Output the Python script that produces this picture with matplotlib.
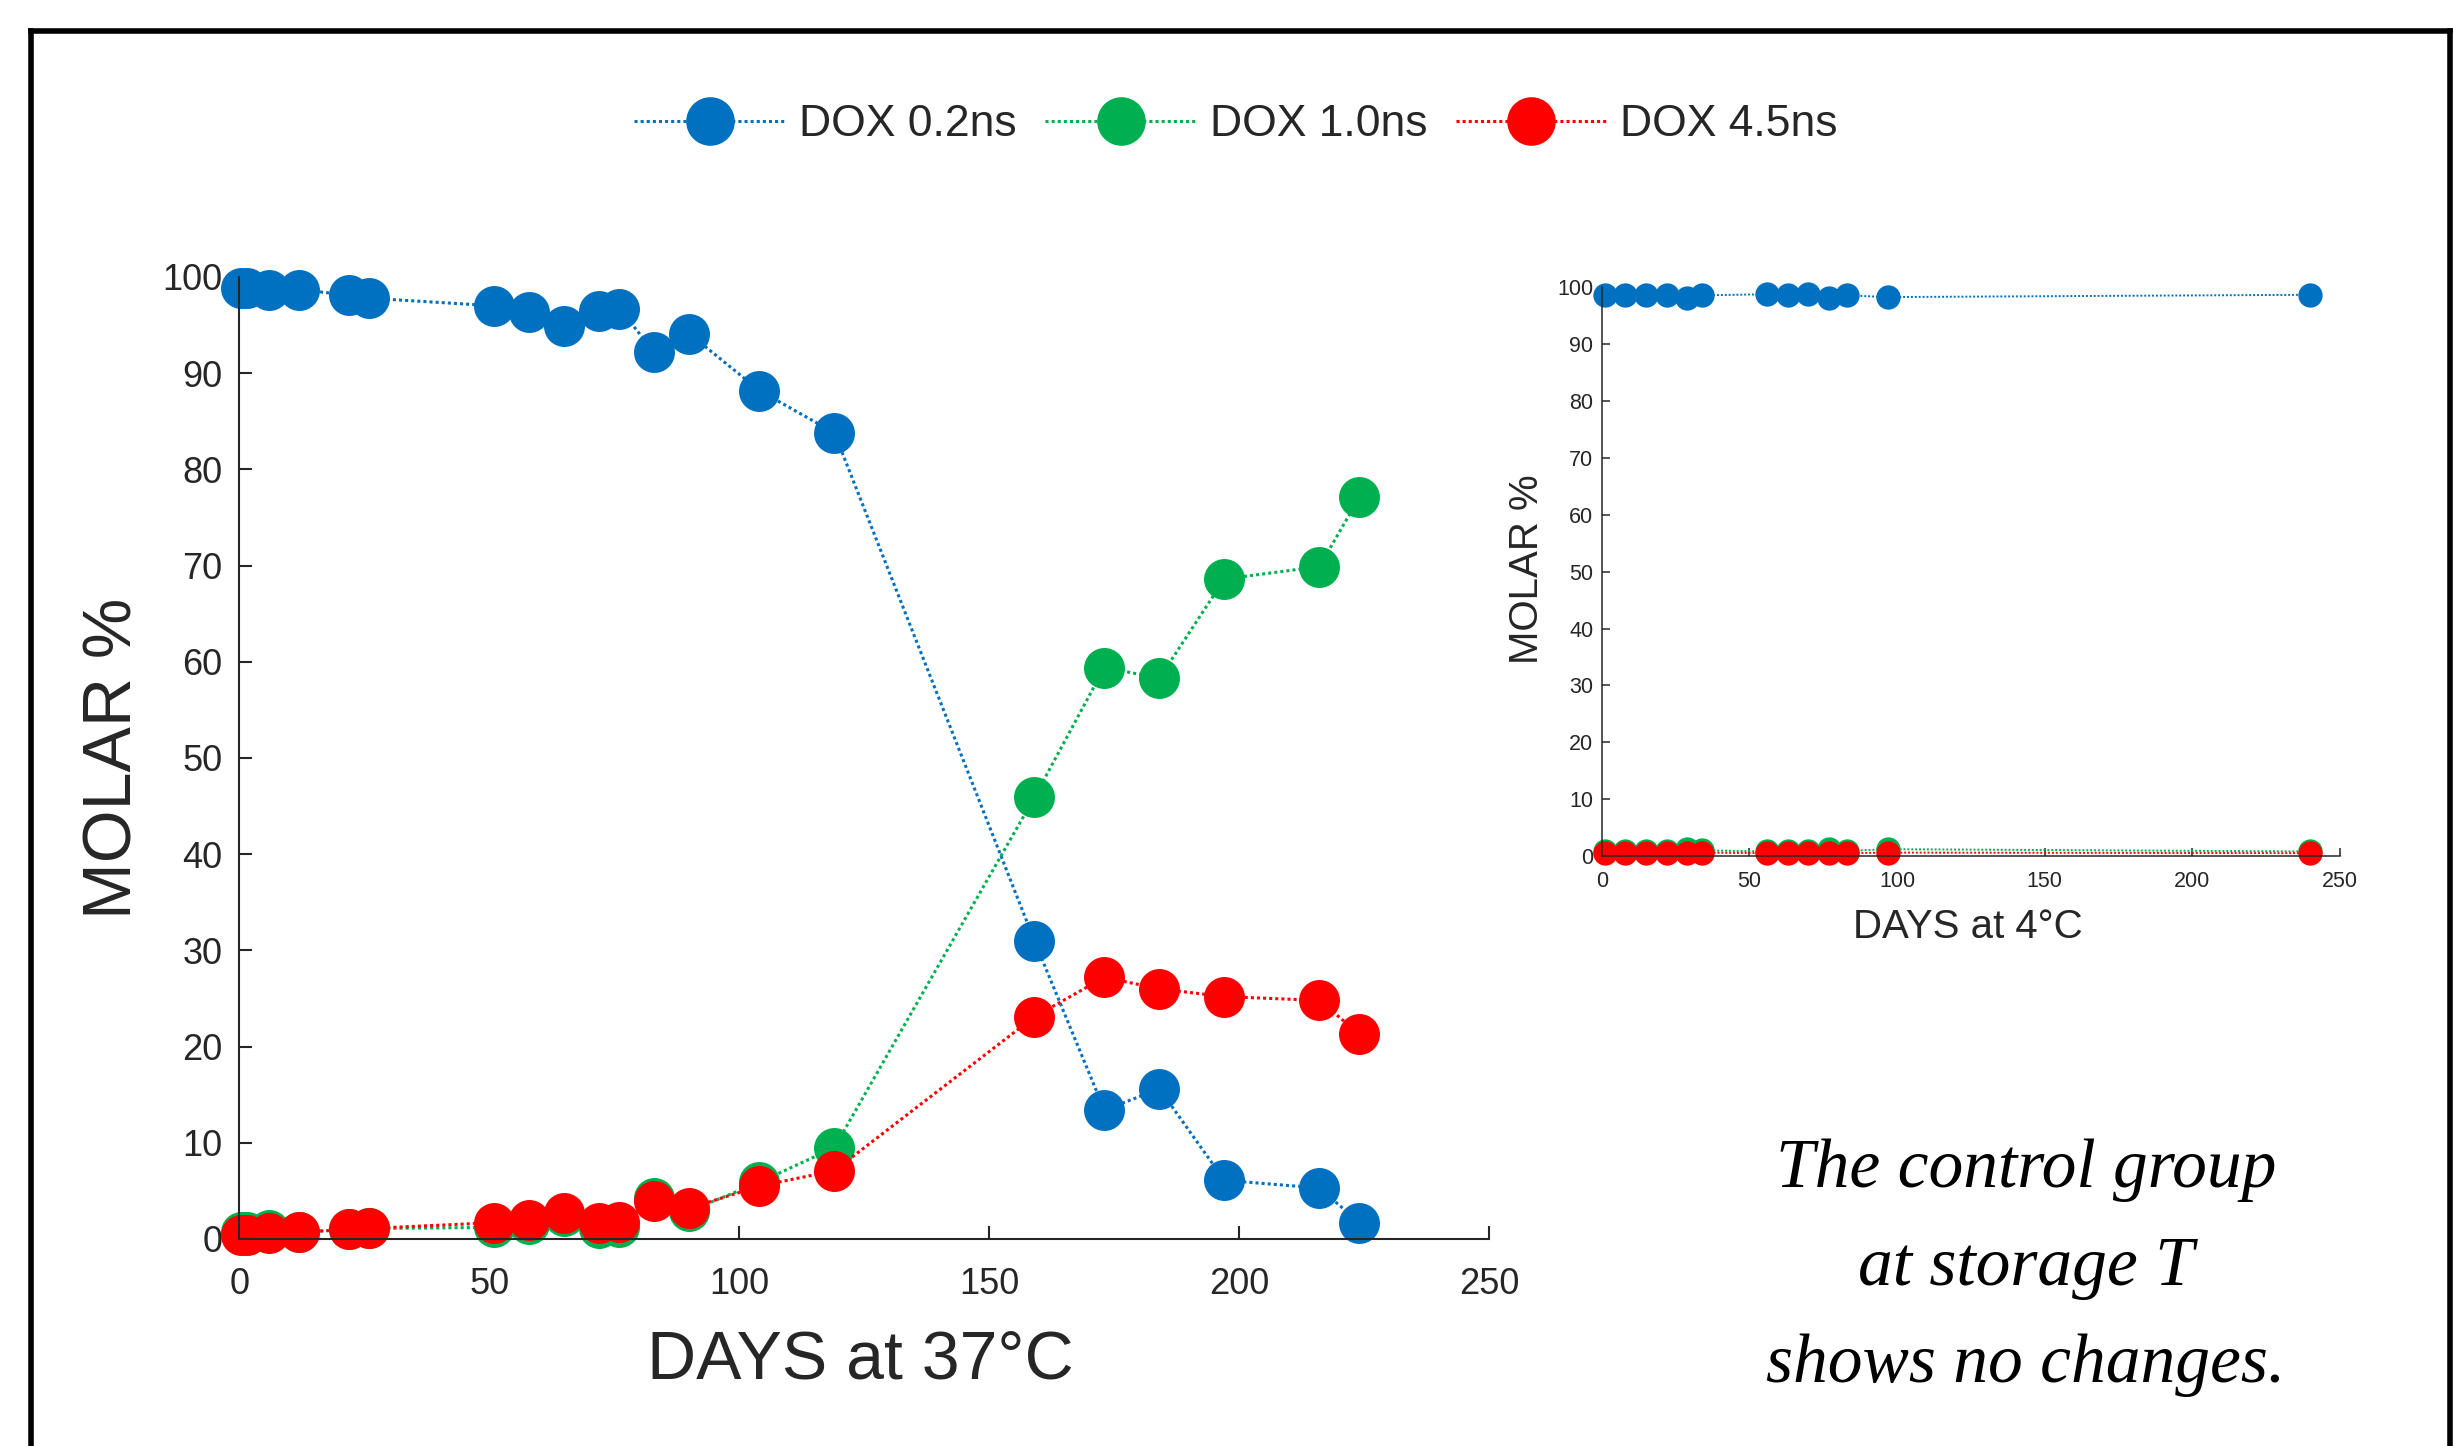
import matplotlib
matplotlib.use('Agg')
import matplotlib.pyplot as plt
from matplotlib.lines import Line2D
import numpy as np

plt.rcParams['font.family'] = ['Liberation Sans', 'DejaVu Sans']

# storage at 37 C
days37 = [0.3, 1.5, 6, 12, 22, 26, 51, 58, 65, 72, 76, 83, 90, 104, 119,
          159, 173, 184, 197, 216, 224]
blue37 = [98.9, 98.9, 98.6, 98.7, 98.1, 97.8, 97.0, 96.4, 94.9, 96.5, 96.7,
          92.2, 94.1, 88.2, 83.8, 31.0, 13.4, 15.6, 6.1, 5.3, 1.7]
green37 = [0.7, 0.7, 0.9, 0.7, 1.0, 1.1, 1.2, 1.55, 2.4, 1.1, 1.2,
           4.3, 2.9, 5.9, 9.5, 45.9, 59.4, 58.3, 68.6, 69.9, 77.1]
red37 = [0.4, 0.4, 0.6, 0.7, 1.0, 1.1, 1.7, 2.0, 2.7, 1.7, 1.8,
         3.9, 3.2, 5.5, 7.1, 23.1, 27.2, 26.0, 25.2, 24.8, 21.3]

# storage at 4 C (control)
days4 = [1, 8, 15, 22, 29, 34, 56, 63, 70, 77, 83, 97, 240]
blue4 = [98.7, 98.7, 98.7, 98.7, 98.1, 98.6, 98.8, 98.7, 98.8, 98.2, 98.6, 98.3, 98.7]
green4 = [0.8, 0.8, 0.8, 0.8, 1.3, 1.0, 0.8, 0.8, 0.8, 1.3, 0.9, 1.2, 0.8]
red4 = [0.5, 0.5, 0.5, 0.5, 0.6, 0.6, 0.5, 0.5, 0.5, 0.6, 0.5, 0.6, 0.5]

labels = ['DOX 0.2ns', 'DOX 1.0ns', 'DOX 4.5ns']
colors = ['#0070C0', '#00B050', '#FF0000']
axcol = '#262626'

W, H = 2453, 1446
fig = plt.figure(figsize=(W / 100, H / 100), dpi=100)

ax = fig.add_axes([239.4 / W, 1 - 1239 / H, 1250 / W, 962 / H])
ins = fig.add_axes([1601.8 / W, 1 - 856 / H, 737.9 / W, 568.6 / H])

for ys, c, lab in zip([blue37, green37, red37], colors, labels):
    ax.plot(days37, ys, color=c, ls=(0, (1, 1)), lw=2.2, marker='o',
            ms=29.5, mec='none', clip_on=False, label=lab)

for ys, c in zip([blue4, green4, red4], colors):
    ins.plot(days4, ys, color=c, ls=(0, (1, 1)), lw=1.4, marker='o',
             ms=17.5, mec='none', clip_on=False)


def style(a, size, tlen, xpad, ypad, lw):
    a.set_xlim(0, 250)
    a.set_ylim(0, 100)
    a.set_xticks(np.arange(0, 251, 50))
    a.set_yticks(np.arange(0, 101, 10))
    for s in ['top', 'right']:
        a.spines[s].set_visible(False)
    for s in ['left', 'bottom']:
        a.spines[s].set_color(axcol)
        a.spines[s].set_linewidth(lw)
    a.tick_params(direction='in', length=tlen, width=lw, colors=axcol,
                  labelsize=size, labelcolor=axcol)
    a.tick_params(axis='x', pad=xpad)
    a.tick_params(axis='y', pad=ypad)
    a.set_facecolor('none')


style(ax, 26, 9.5, 20, 12, 1.5)
style(ins, 15.5, 5.5, 11, 6, 1.1)

ax.set_ylabel('MOLAR %', fontsize=49, color=axcol, va='center')
ax.yaxis.set_label_coords(-0.1005, 0.5)
ax.set_xlabel('DAYS at 37°C', fontsize=49, color=axcol, va='center')
ax.xaxis.set_label_coords(0.497, -0.1265)

ins.set_ylabel('MOLAR %', fontsize=29, color=axcol, va='center')
ins.yaxis.set_label_coords(-0.1015, 0.504)
ins.set_xlabel('DAYS at 4°C', fontsize=29, color=axcol, va='center')
ins.xaxis.set_label_coords(0.496, -0.124)

handles = [Line2D([], [], color=c, ls=(0, (1, 1)), lw=2.2, marker='o',
                  ms=35, mec='none') for c in colors]
fig.legend(handles, labels, loc='center', bbox_to_anchor=(1236 / W, 1 - 125 / H),
           ncol=3, frameon=False, fontsize=32, handlelength=3.4,
           handletextpad=0.3, columnspacing=0.65, labelcolor=axcol)

fig.text(2026 / W, 1 - 1268 / H,
         'The control group\nat storage T\nshows no changes.',
         ha='center', va='center', multialignment='center', fontsize=50,
         style='italic', family=['Liberation Serif', 'DejaVu Serif'],
         linespacing=1.7, color='black')

# frame around the figure (open at the bottom)
for xs, ys in [([31 / W, 31 / W], [0, 1 - 31 / H]),
               ([31 / W, 2450 / W], [1 - 31 / H, 1 - 31 / H]),
               ([2450 / W, 2450 / W], [0, 1 - 31 / H])]:
    fig.add_artist(Line2D(xs, ys, color='black', lw=4, solid_capstyle='projecting'))

fig.savefig('out.png', dpi=100, facecolor='white')
